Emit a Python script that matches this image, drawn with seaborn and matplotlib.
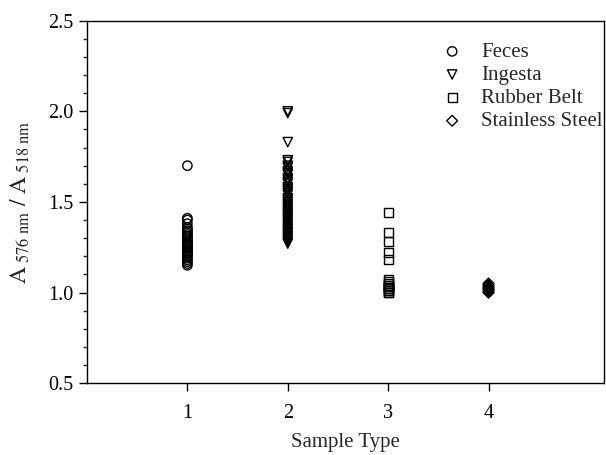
import pandas as pd
import matplotlib
matplotlib.use("Agg")
import matplotlib.pyplot as plt
import seaborn as sns
from matplotlib.ticker import MultipleLocator

# data
feces = [1.70, 1.41, 1.40, 1.38, 1.36, 1.35, 1.34, 1.33, 1.32, 1.31, 1.30, 1.30,
         1.29, 1.28, 1.28, 1.27, 1.27, 1.26, 1.26, 1.25, 1.25, 1.24, 1.24, 1.23,
         1.23, 1.22, 1.22, 1.21, 1.20, 1.20, 1.19, 1.18, 1.17, 1.16, 1.15]
ingesta = [2.00, 1.99, 1.83, 1.73, 1.72, 1.70, 1.69, 1.67, 1.66, 1.65, 1.63,
           1.62, 1.61, 1.60, 1.58, 1.57, 1.56, 1.55, 1.54, 1.52, 1.51, 1.50,
           1.49, 1.48, 1.47, 1.46, 1.45, 1.44, 1.43, 1.42, 1.41, 1.40, 1.39,
           1.38, 1.37, 1.36, 1.35, 1.34, 1.33, 1.32, 1.31, 1.30, 1.29, 1.28, 1.27]
rubber_belt = [1.44, 1.33, 1.28, 1.22, 1.18, 1.07, 1.06, 1.05, 1.04, 1.04, 1.03,
               1.03, 1.02, 1.02, 1.01, 1.01, 1.00, 1.00]
stainless_steel = [1.05, 1.04, 1.04, 1.03, 1.03, 1.02, 1.02, 1.01, 1.01, 1.00, 1.00]

groups = ["Feces", "Ingesta", "Rubber Belt", "Stainless Steel"]
sample_type = [1, 2, 3, 4]
values = [feces, ingesta, rubber_belt, stainless_steel]
markers = ["o", "v", "s", "D"]
sizes = [45, 45, 40, 30]

sns.set_style("ticks")
plt.rcParams["font.family"] = ["Liberation Serif", "DejaVu Serif"]
plt.rcParams["mathtext.fontset"] = "stix"

fig = plt.figure(figsize=(6.06, 4.55), dpi=100)
ax = fig.add_axes([0.1436, 0.158, 0.853, 0.7965])

for name, st, vals, m, s in zip(groups, sample_type, values, markers, sizes):
    df = pd.DataFrame({"x": [st] * len(vals), "y": vals})
    sns.scatterplot(data=df, x="x", y="y", marker=m, s=s, color="none",
                    edgecolor="black", linewidth=1.0, label=name, ax=ax)

ax.set_xlim(0, 5.15)
ax.set_ylim(0.5, 2.5)
ax.set_xticks(sample_type)
ax.yaxis.set_major_locator(MultipleLocator(0.5))
ax.yaxis.set_minor_locator(MultipleLocator(0.1))
ax.yaxis.set_major_formatter(matplotlib.ticker.FormatStrFormatter("%.1f"))
ax.tick_params(axis="both", which="major", direction="out", length=6,
               width=1, labelsize=14.5, color="black", labelcolor="black")
ax.tick_params(axis="x", which="major", pad=9)
ax.tick_params(axis="y", which="minor", direction="out", length=3, width=1)
for sp in ax.spines.values():
    sp.set_color("black")
    sp.set_linewidth(1)

ax.set_xlabel("Sample Type", fontsize=15, labelpad=7)
ax.set_ylabel(r"$\mathrm{A}_{\ \mathrm{576\ nm}}\ /\ \mathrm{A}_{\ \mathrm{518\ nm}}$",
              fontsize=17, labelpad=12)

leg = ax.legend(loc="upper right", bbox_to_anchor=(1.022, 0.975), frameon=False,
                fontsize=15, handletextpad=0.7, labelspacing=0.17,
                handlelength=1.4, borderaxespad=0.2)

fig.savefig("out.png", dpi=100)
